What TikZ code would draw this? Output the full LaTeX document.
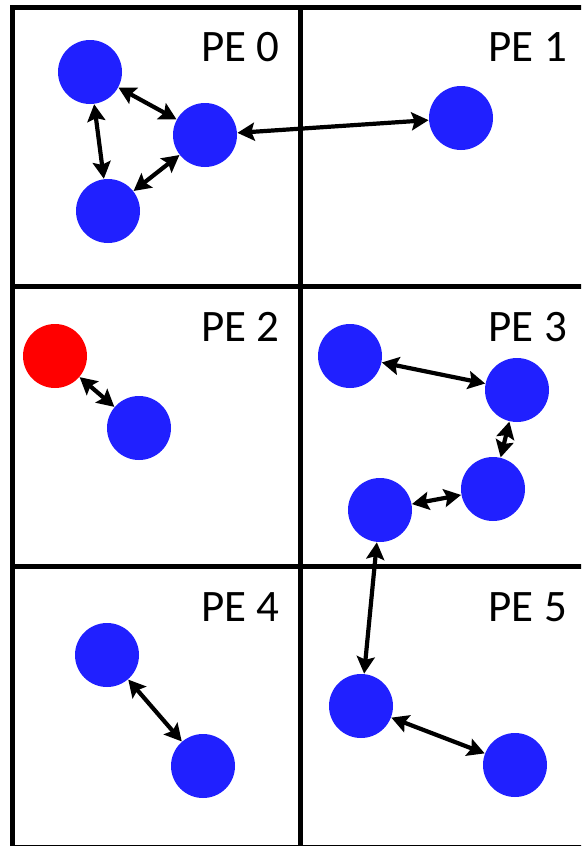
\documentclass[tikz,border=0pt]{standalone}
\usepackage{fontspec}
\setmainfont{Carlito}
\usetikzlibrary{arrows.meta}
\definecolor{pblue}{RGB}{32,32,255}
\definecolor{pred}{RGB}{255,0,0}
\tikzset{
  tip/.tip={Stealth[length=17pt,width=18pt,inset=3pt]},
  particle/.style={circle,fill=pblue,minimum size=64pt,inner sep=0pt,outer sep=0pt},
  hot/.style={particle,fill=pred},
  link/.style={line width=4.2pt,tip-tip,shorten <=0.5pt,shorten >=0.5pt},
  grid/.style={line width=5pt},
  pelabel/.style={anchor=east,font=\fontsize{45}{54}\selectfont,inner sep=0pt}
}
\begin{document}
\begin{tikzpicture}[x=1pt,y=-1pt]
\useasboundingbox (0,0) rectangle (581,846);
\clip (0,0) rectangle (581,846);
\fill[white] (0,0) rectangle (581,846);
% grid
\draw[grid] (12.5,7) rectangle (590,847.5);
\draw[grid] (300,7) -- (300,849);
\draw[grid] (12.5,286) -- (590,286);
\draw[grid] (12.5,566) -- (590,566);
% labels
\node[pelabel] (l0) at (280,47) {PE 0};
\node[pelabel] (l1) at (567,47) {PE 1};
\node[pelabel] (l2) at (280,327) {PE 2};
\node[pelabel] (l3) at (567,327) {PE 3};
\node[pelabel] (l4) at (280,607) {PE 4};
\node[pelabel] (l5) at (567,607) {PE 5};
% particles
\node[particle] (A) at (90,72) {};
\node[particle] (B) at (205,135) {};
\node[particle] (C) at (108,211) {};
\node[particle] (D) at (461,118) {};
\node[hot] (R) at (55,356) {};
\node[particle] (E) at (139,428) {};
\node[particle] (F) at (350,356) {};
\node[particle] (G) at (517,390) {};
\node[particle] (H) at (493,489) {};
\node[particle] (I) at (380,510) {};
\node[particle] (J) at (107,655) {};
\node[particle] (K) at (203,766) {};
\node[particle] (L) at (361,706) {};
\node[particle] (M) at (515,765) {};
% links
\draw[link] (A) -- (B);
\draw[link] (A) -- (C);
\draw[link] (C) -- (B);
\draw[link] (B) -- (D);
\draw[link] (R) -- (E);
\draw[link] (F) -- (G);
\draw[link] (G) -- (H);
\draw[link] (I) -- (H);
\draw[link] (I) -- (L);
\draw[link] (J) -- (K);
\draw[link] (L) -- (M);
\end{tikzpicture}
\end{document}
